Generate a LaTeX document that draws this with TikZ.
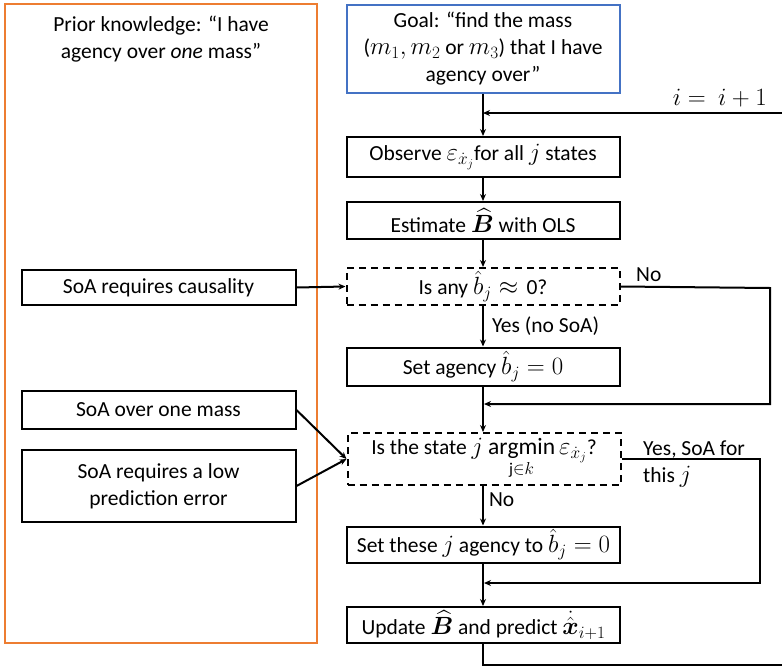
\documentclass[tikz,border=0pt]{standalone}
\usepackage{amsmath}
\usepackage{bm}
\usepackage{fontspec}
\setmainfont{Carlito}
\usetikzlibrary{arrows.meta}
\definecolor{orng}{HTML}{ED7D31}
\definecolor{blu}{HTML}{4472C4}
\newcommand{\mth}[1]{{\fontsize{23.5}{27}\selectfont$#1$}}
\tikzset{
  base/.style={font=\fontsize{21.5}{27}\selectfont, inner sep=0pt, align=center},
  box/.style={base, draw, line width=2pt, minimum width=273pt},
  dbox/.style={box, dashed, dash pattern=on 7pt off 5pt},
  lbl/.style={font=\fontsize{21.5}{27}\selectfont, inner sep=0pt, align=left},
  conn/.style={line width=2pt},
  arr/.style={conn, -{Stealth[length=7pt,width=6pt]}},
}
\begin{document}
\begin{tikzpicture}[x=1pt,y=-1pt]
\useasboundingbox (0,0) rectangle (782,667);
% prior knowledge panel
\draw[orng, line width=2.4pt] (5,4) rectangle (317,643);
\node[base] (prior) at (161,39) {Prior knowledge: “I have\\agency over \textit{one} mass”};
% left boxes
\node[box, minimum width=274pt, minimum height=35pt] (caus) at (158.5,287.5) {SoA requires causality};
\node[box, minimum width=274pt, minimum height=38pt] (one) at (158.5,410) {SoA over one mass};
\node[box, minimum width=274pt, minimum height=72pt] (low) at (158.5,486) {SoA requires a low\\prediction error};
% main column
\node[box, draw=blu, minimum height=88pt] (goal) at (483,48.5) {Goal: “find the mass\\(\mth{m_1, m_2} or \mth{m_3}) that I have\\agency over”};
\node[box, minimum height=40pt] (obs) at (483,157) {Observe \mth{\varepsilon_{\dot{x}_j}}for all \mth{j} states};
\node[box, minimum height=37pt] (est) at (483,220.5) {Estimate \mth{\widehat{\bm{B}}} with OLS};
\node[dbox, minimum height=37pt] (dec1) at (483,286.5) {Is any \mth{\hat{b}_j \approx}\, 0?};
\node[box, minimum height=38pt] (setag) at (483,366.5) {Set agency \mth{\hat{b}_j = 0}};
\node[dbox, minimum height=52pt] (dec2) at (484,459) {Is the state \mth{j} \mth{\mathop{\mathrm{argmin}}\limits_{\mathrm{j}\in k} \varepsilon_{\dot{x}_j}}?};
\node[box, minimum height=36pt] (sett) at (483.5,544.5) {Set these \mth{j} agency to \mth{\hat{b}_j = 0}};
\node[box, minimum height=36pt] (upd) at (483.5,625) {Update \mth{\widehat{\bm{B}}} and predict \mth{\dot{\hat{\bm{x}}}_{i+1}}};
% loop coordinates
\coordinate (loopin) at (782,113);
\coordinate (loopout) at (782,665);
\coordinate (noR) at (770,288);
\coordinate (yesR) at (760,459);
\coordinate (m1) at (483,404);
\coordinate (m2) at (483,583);
% connectors
\draw[arr] (goal.south) -- (obs.north);
\draw[arr] (loopin) -- (goal.south |- loopin);
\node[lbl, anchor=base east] (iinc) at (767,105) {\mth{i =\ i + 1}};
\draw[arr] (obs.south) -- (est.north);
\draw[arr] (est.south) -- (dec1.north);
\draw[arr] (caus.east) -- (dec1.west);
\draw[arr] (dec1.south) -- node[lbl, right=8pt] {Yes (no SoA)} (setag.north);
\draw[arr] (dec1.east) -- (noR) -- (noR |- m1) -- ([xshift=1pt]m1);
\node[lbl, anchor=base west] (nolbl1) at (636,281) {No};
\draw[arr] (setag.south) -- (dec2.north -| setag.south);
\draw[arr] (one.east) -- (dec2.west);
\draw[arr] (low.east) -- (dec2.west);
\draw[arr] (dec2.east) -- (yesR) -- (yesR |- m2) -- ([xshift=1pt]m2);
\node[lbl, anchor=base west] (yeslbl) at (643,455) {Yes, SoA for};
\node[lbl, anchor=base west] (yeslbl2) at (643,482) {this \mth{j}};
\draw[arr] (dec2.south -| setag.south) -- node[lbl, right=5pt, pos=0.35] {No} (sett.north -| setag.south);
\draw[arr] (sett.south -| setag.south) -- (upd.north -| setag.south);
\draw[conn] (upd.south -| setag.south) -- (setag.south |- loopout) -- (loopout);
\end{tikzpicture}
\end{document}
